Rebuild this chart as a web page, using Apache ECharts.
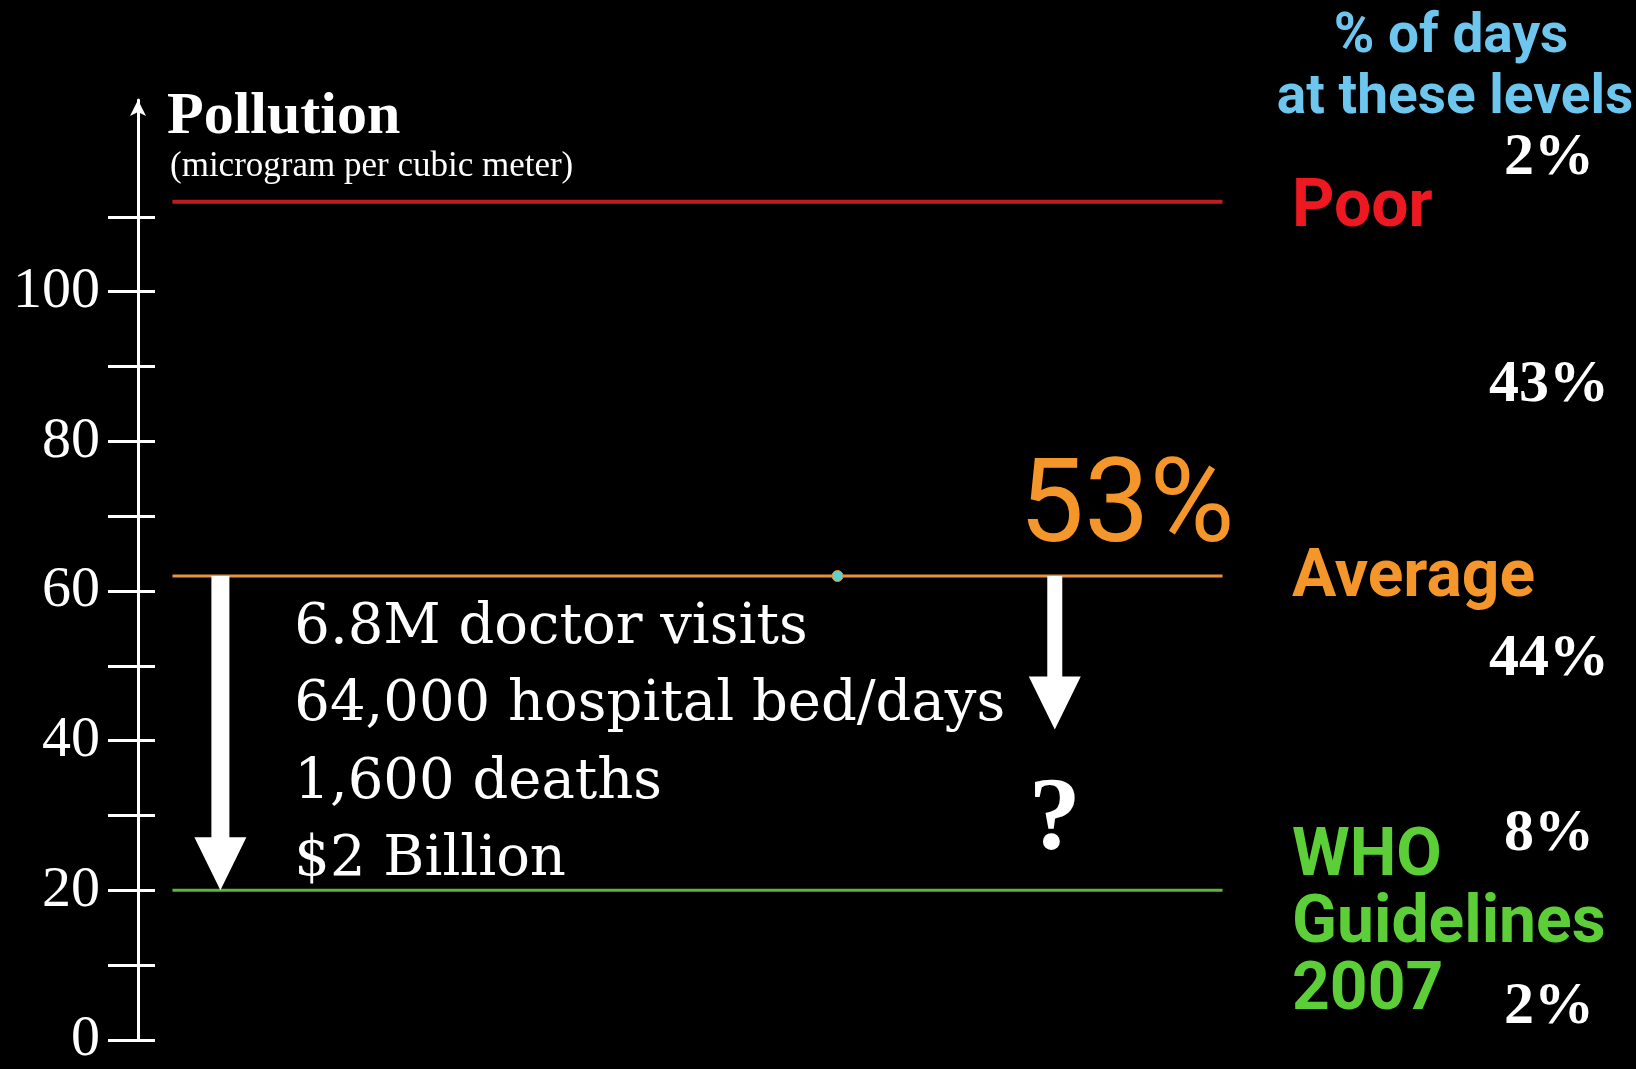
<!DOCTYPE html>
<html>
<head>
<meta charset="utf-8">
<script src="https://cdn.jsdelivr.net/npm/echarts@6/dist/echarts.min.js"></script>
<style>
html,body{margin:0;padding:0;background:#000;}
#main{width:1636px;height:1069px;}
</style>
</head>
<body>
<div id="main"></div>
<script>
// levels (microgram per cubic meter)
var levelNames = ['Poor', 'Average', 'WHO\nGuidelines\n2007'];
var levelValues = [112, 62, 20];

// share of days in each band, and where each share sits on the scale
var bandShares = ['2%', '43%', '44%', '8%', '2%'];
var bandAt = [117.8, 87.4, 50.8, 27.5, 4.3];

// health cost of going from average down to the WHO guideline
var impactLines = ['6.8M doctor visits', '64,000 hospital bed/days', '1,600 deaths', '$2 Billion'];
var impactAt = [55.0, 44.7, 34.3, 24.0];

// arrows: from level -> to level
var arrowFrom = [62, 62];
var arrowTo = [20, 41.5];

var yLabelValues = [0, 20, 40, 60, 80, 100];
var yTickValues = [0, 10, 20, 30, 40, 50, 60, 70, 80, 90, 100, 110];

var myChart = echarts.init(document.getElementById('main'));

// layout (x runs 0..100 across the grid)
var lineFrom = 2.3, lineTo = 72.4;
var levelLabelX = 77.0;
var bandX = 94.2;
var impactX = 10.4;
var arrowX = [5.5, 61.2];
var arrowShaft = [18, 15];
var lineColors = ['#c01e1e', '#e6923e', '#5fb438'];
var textColors = ['#ee1820', '#f4962a', '#5ccf38'];
var hidden = { color: 'rgba(0,0,0,0)', opacity: 1 };

var series = [];

levelValues.forEach(function (v, i) {
	series.push({
		type: 'line',
		data: [[lineFrom, v], [lineTo, v]],
		symbol: 'none',
		silent: true,
		lineStyle: { color: lineColors[i], width: i === 0 ? 4 : 3 },
		z: 2
	});
});

// level names on the right
series.push({
	type: 'scatter',
	symbolSize: 1,
	itemStyle: hidden,
	silent: true,
	data: levelNames.map(function (n, i) {
		return {
			name: n,
			value: [levelLabelX, levelValues[i]],
			label: { color: textColors[i], offset: [0, [8, 4, 35][i]] }
		};
	}),
	label: {
		show: true,
		position: 'right',
		distance: 0,
		formatter: '{b}',
		fontFamily: 'Roboto',
		fontWeight: 'bold',
		fontSize: 66,
		lineHeight: 67
	}
});

// % of days
series.push({
	type: 'scatter',
	symbolSize: 1,
	itemStyle: hidden,
	silent: true,
	data: bandShares.map(function (s, i) {
		return { name: s, value: [bandX, bandAt[i]] };
	}),
	label: {
		show: true,
		position: 'inside',
		formatter: '{b}',
		color: '#fff',
		fontFamily: 'Liberation Serif',
		fontWeight: 'bold',
		fontSize: 60
	}
});

// impact text
series.push({
	type: 'scatter',
	symbolSize: 1,
	itemStyle: hidden,
	silent: true,
	data: impactLines.map(function (s, i) {
		return { name: s, value: [impactX, impactAt[i]] };
	}),
	label: {
		show: true,
		position: 'right',
		distance: 0,
		formatter: '{b}',
		color: '#fff',
		fontFamily: 'DejaVu Serif',
		fontSize: 56
	}
});

// 53% and the question mark
series.push({
	type: 'scatter',
	symbolSize: 1,
	itemStyle: hidden,
	silent: true,
	data: [
		{ name: '53%', value: [66.0, 70.6], label: { color: '#f4962a', fontFamily: 'Roboto', fontSize: 116 } },
		{ name: '?', value: [61.2, 29.1], label: { color: '#fff', fontFamily: 'Liberation Serif', fontWeight: 'bold', fontSize: 104 } }
	],
	label: { show: true, position: 'inside', formatter: '{b}' }
});

// small marker on the average line
series.push({
	type: 'scatter',
	silent: true,
	symbolSize: 11,
	itemStyle: { color: '#5ed3cb', borderColor: '#e6923e', borderWidth: 1, opacity: 1 },
	data: [[46.7, 62]],
	z: 5
});

// arrows
series.push({
	type: 'custom',
	silent: true,
	data: arrowFrom.map(function (f, i) { return [arrowX[i], f, arrowTo[i]]; }),
	renderItem: function (params, api) {
		var top = api.coord([api.value(0), api.value(1)]);
		var tip = api.coord([api.value(0), api.value(2)]);
		var s = arrowShaft[params.dataIndex] / 2;
		var hw = 26, hl = 53;
		var x = top[0];
		return {
			type: 'polygon',
			shape: { points: [
				[x - s, top[1]], [x + s, top[1]], [x + s, tip[1] - hl], [x + hw, tip[1] - hl],
				[x, tip[1]], [x - hw, tip[1] - hl], [x - s, tip[1] - hl]
			] },
			style: { fill: '#fff' }
		};
	},
	z: 3
});

var option = {
	backgroundColor: '#000',
	animation: false,
	grid: { left: 138, right: 0, top: 100, bottom: 28 },
	xAxis: { type: 'value', min: 0, max: 100, show: false },
	yAxis: [{
		type: 'value',
		min: 0,
		max: 125.6,
		position: 'left',
		splitLine: { show: false },
		axisLine: { show: true, onZero: false, symbol: ['none', 'arrow'], symbolSize: [12, 16], lineStyle: { color: '#fff', width: 3 } },
		axisTick: { show: true, length: 30, customValues: yTickValues, lineStyle: { color: '#fff', width: 3 } },
		axisLabel: { show: true, customValues: yLabelValues, margin: 38, padding: [16, 0, 0, 0], color: '#fff', fontFamily: 'Liberation Serif', fontSize: 58 }
	}, {
		type: 'value',
		min: 0,
		max: 125.6,
		position: 'left',
		splitLine: { show: false },
		axisLine: { show: false, onZero: false },
		axisTick: { show: true, inside: true, length: 17, customValues: yTickValues, lineStyle: { color: '#fff', width: 3 } },
		axisLabel: { show: false }
	}],
	graphic: [
		{ type: 'text', x: 167, y: 117, style: { text: 'Pollution', fill: '#fff', font: 'bold 60px "Liberation Serif"', verticalAlign: 'middle' } },
		{ type: 'text', x: 170, y: 167, style: { text: '(microgram per cubic meter)', fill: '#fff', font: '35px "Liberation Serif"', verticalAlign: 'middle' } },
		{ type: 'text', x: 1451, y: 38, style: { text: '% of days', fill: '#6dc6ee', font: 'bold 55px Roboto', align: 'center', verticalAlign: 'middle' } },
		{ type: 'text', x: 1455, y: 99, style: { text: 'at these levels', fill: '#6dc6ee', font: 'bold 55px Roboto', align: 'center', verticalAlign: 'middle' } }
	],
	series: series
};

myChart.setOption(option);
</script>
</body>
</html>
